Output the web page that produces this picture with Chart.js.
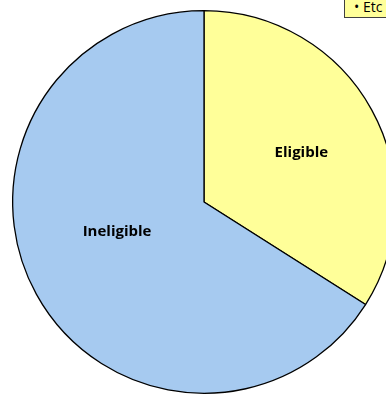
<!DOCTYPE html>
<html>
<head>
<meta charset="utf-8">
<script src="https://cdn.jsdelivr.net/npm/chart.js@4.4.0/dist/chart.umd.min.js"></script>
<style>
  html, body { margin: 0; padding: 0; background: #fff; overflow: hidden; }
  #wrap { position: relative; width: 386px; height: 394px; overflow: hidden; }
  #pie { position: absolute; left: 0; top: 0; }
  #note {
    position: absolute; left: 344px; top: -2px; width: 70px; height: 20px;
    background: #ffff99; border: 1px solid #404040;
    font: 14px "Open Sans", sans-serif; line-height: 15px; color: #000;
    padding-left: 9px; box-sizing: border-box; white-space: nowrap;
  }
</style>
</head>
<body>
<div id="wrap">
  <canvas id="pie" width="408" height="404"></canvas>
  <div id="note">• Etc</div>
</div>
<script>
  const categories = ['Eligible', 'Ineligible'];
  const shares = [34, 66];
  const sliceColors = ['#ffff99', '#a6caf0'];

  // where each name sits inside its slice: fraction of radius, angle nudge (deg)
  const labelPlace = [
    { r: 0.57, turn: 2 },
    { r: 0.48, turn: 10 }
  ];

  // slice names drawn inside the pie
  const sliceLabels = {
    id: 'sliceLabels',
    afterDatasetsDraw(chart) {
      const ctx = chart.ctx;
      const arcs = chart.getDatasetMeta(0).data;
      ctx.save();
      ctx.font = 'bold 15px "Open Sans", sans-serif';
      ctx.fillStyle = '#000';
      ctx.textAlign = 'center';
      ctx.textBaseline = 'middle';
      arcs.forEach((arc, i) => {
        const p = arc.getProps(['x', 'y', 'startAngle', 'endAngle', 'outerRadius'], true);
        const mid = (p.startAngle + p.endAngle) / 2 + labelPlace[i].turn * Math.PI / 180;
        const d = p.outerRadius * labelPlace[i].r;
        ctx.fillText(categories[i], p.x + Math.cos(mid) * d, p.y + Math.sin(mid) * d);
      });
      ctx.restore();
    }
  };

  new Chart(document.getElementById('pie'), {
    type: 'pie',
    data: {
      labels: categories,
      datasets: [{
        data: shares,
        backgroundColor: sliceColors,
        borderColor: '#000',
        borderWidth: 1.3
      }]
    },
    options: {
      responsive: false,
      animation: false,
      layout: { padding: { left: 12, right: 12, top: 10, bottom: 10 } },
      plugins: {
        legend: { display: false },
        tooltip: { enabled: false }
      }
    },
    plugins: [sliceLabels]
  });
</script>
</body>
</html>
